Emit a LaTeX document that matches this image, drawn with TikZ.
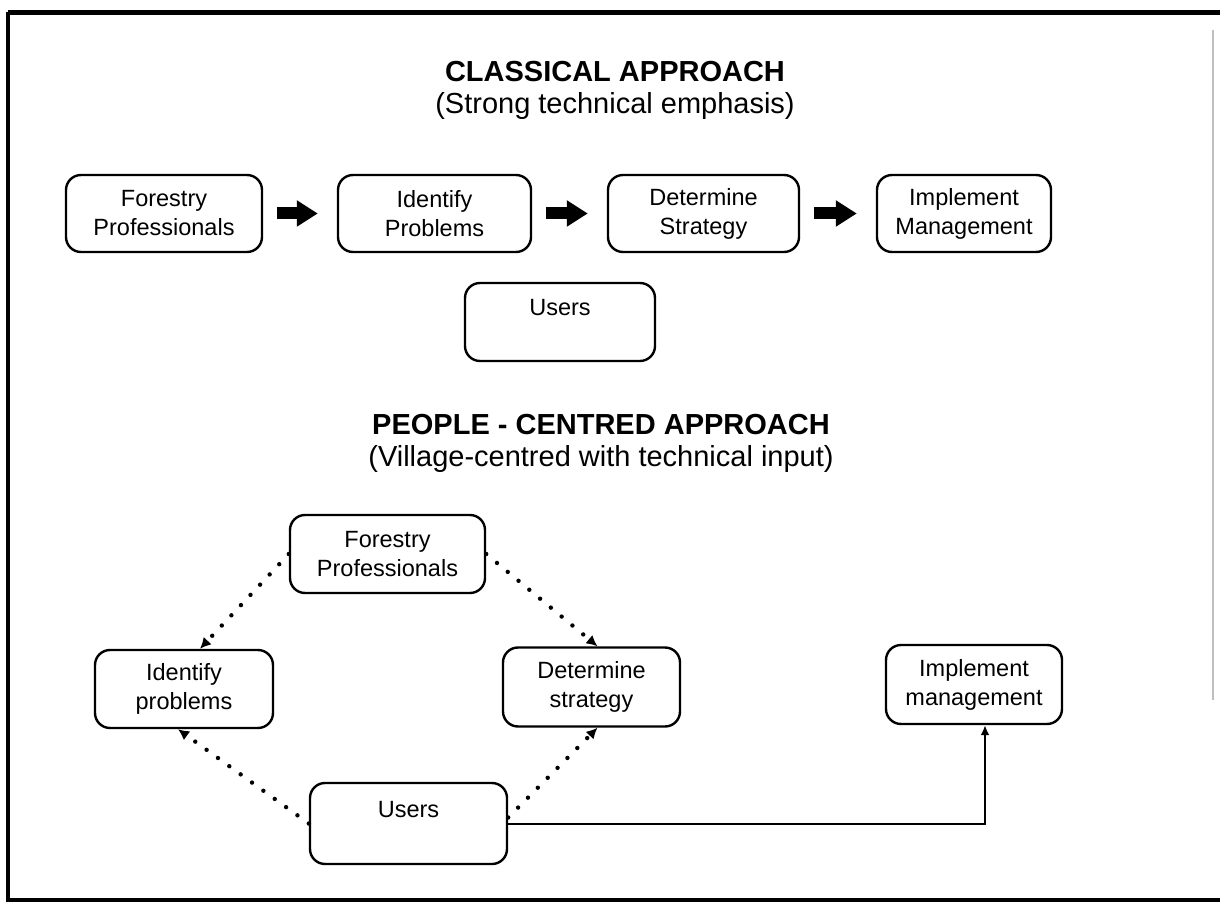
\documentclass[tikz,border=0pt]{standalone}
\usepackage{fontspec}
\setmainfont{Liberation Sans}
\usetikzlibrary{arrows.meta}
\tikzset{box/.style = {draw, line width = 1.2pt, rounded corners = 7.5pt, align = center, inner sep = 0, font = \fontsize{11.75}{14.5}\selectfont}}
\tikzset{heading/.style = {inner sep = 0, font = \fontsize{14.5}{15}\selectfont}}
\tikzset{blockarrow/.style = {line width = 6pt, -{Triangle[length = 10.5pt, width = 12.5pt]}}}
\tikzset{dotarrow/.style = {line width = 2.2pt, line cap = round, dash pattern = on 0pt off 7pt, -{Latex[length = 5.5pt, width = 5.5pt]}}}

\begin{document}
\begin{tikzpicture}[x = 0.5pt, y = -0.5pt]
    \useasboundingbox (0, 0) rectangle (1220, 903);

    % frame
    \draw [line width = 2.5pt] (1220, 13) -- (8, 13);
    \draw [line width = 2pt] (8, 12) -- (8, 900) -- (1220, 900);
    \draw [gray!50, line width = 0.6pt] (1213, 30) -- (1213, 700);

    % classical approach
    \node [heading, font = \fontsize{14.5}{15}\selectfont\bfseries] (titleA) at (615, 72) {CLASSICAL APPROACH};
    \node [heading] (subA) at (615, 106) {(Strong technical emphasis)};

    \node [box, minimum width = 98pt, minimum height = 38.5pt] (fpA) at (164, 213.5) {Forestry\\Professionals};
    \node [box, minimum width = 96.5pt, minimum height = 38.5pt] (ipA) at (434.5, 213.5) {Identify\\Problems};
    \node [box, minimum width = 95.5pt, minimum height = 38.5pt] (dsA) at (703.5, 213.5) {Determine\\Strategy};
    \node [box, minimum width = 87pt, minimum height = 38.5pt] (imA) at (964, 213.5) {Implement\\Management};
    \node [box, minimum width = 95pt, minimum height = 39pt] (usA) at (560, 322) {Users\\~};

    \draw [blockarrow] ([xshift = 7pt]fpA.east) -- ([xshift = -9.5pt]ipA.west);
    \draw [blockarrow] ([xshift = 7pt]ipA.east) -- ([xshift = -9.5pt]dsA.west);
    \draw [blockarrow] ([xshift = 7pt]dsA.east) -- ([xshift = -9.5pt]imA.west);

    % people-centred approach
    \node [heading, font = \fontsize{14.5}{15}\selectfont\bfseries] (titleB) at (601, 425) {PEOPLE - CENTRED APPROACH};
    \node [heading] (subB) at (601, 459) {(Village-centred with technical input)};

    \node [box, minimum width = 97.5pt, minimum height = 39pt] (fpB) at (387.5, 554) {Forestry\\Professionals};
    \node [box, minimum width = 89pt, minimum height = 39pt] (ipB) at (184, 689) {Identify\\problems};
    \node [box, minimum width = 88.5pt, minimum height = 39.5pt] (dsB) at (591.5, 687) {Determine\\strategy};
    \node [box, minimum width = 88pt, minimum height = 39.5pt] (imB) at (974, 684.5) {Implement\\management};
    \node [box, minimum width = 98.5pt, minimum height = 40.5pt] (usB) at (408.5, 823.5) {Users\\~};

    \draw [dotarrow] (fpB.west) -- ([xshift = 8pt]ipB.north);
    \draw [dotarrow] (fpB.east) -- ([xshift = 3pt]dsB.north);
    \draw [dotarrow] (usB.west) -- ([xshift = -3pt]ipB.south);
    \draw [dotarrow] ([yshift = 3pt]usB.east) -- ([xshift = 3pt]dsB.south);
    \draw [line width = 1pt, -{Latex[length = 5pt, width = 4.5pt]}] (usB.east) -| ([xshift = 5.5pt]imB.south);
\end{tikzpicture}
\end{document}
